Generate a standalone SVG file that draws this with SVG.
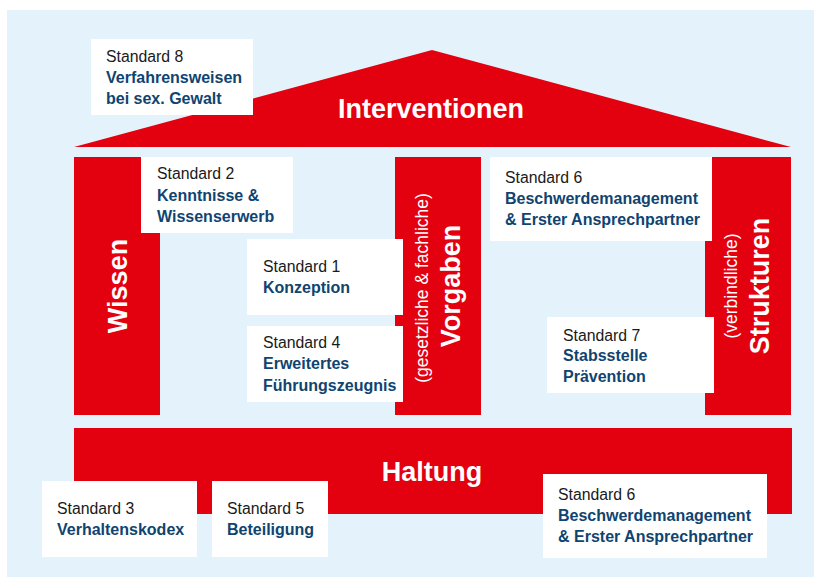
<svg xmlns="http://www.w3.org/2000/svg" width="814" height="577" viewBox="0 0 814 577">
  <style>
    .red { fill: #e3000f; }
    .box { fill: #ffffff; }
    .std { font-family: "Liberation Sans", Arial, sans-serif; font-size: 15.8px; fill: #1a1a1a; }
    .ttl { font-family: "Liberation Sans", Arial, sans-serif; font-size: 16px; font-weight: bold; fill: #0f4470; }
    .big { font-family: "Liberation Sans", Arial, sans-serif; font-size: 27px; font-weight: bold; fill: #ffffff; }
    .sub { font-family: "Liberation Sans", Arial, sans-serif; font-size: 17.5px; fill: #ffffff; }
  </style>

  <!-- page -->
  <rect x="0" y="0" width="814" height="577" fill="#ffffff"/>
  <rect x="7" y="10" width="807" height="567" fill="#e4f3fb"/>

  <!-- roof -->
  <g id="roof">
    <polygon class="red" points="74,147 432,50 791,147"/>
    <text class="big" x="431" y="118" text-anchor="middle">Interventionen</text>
  </g>

  <!-- pillars -->
  <g id="pillar-wissen">
    <rect class="red" x="74" y="157" width="86" height="258"/>
    <text class="big" transform="translate(127,286) rotate(-90)" text-anchor="middle">Wissen</text>
  </g>
  <g id="pillar-vorgaben">
    <rect class="red" x="395" y="157" width="86" height="258"/>
    <text class="sub" transform="translate(428,288) rotate(-90)" text-anchor="middle">(gesetzliche &amp; fachliche)</text>
    <text class="big" transform="translate(460,286) rotate(-90)" text-anchor="middle">Vorgaben</text>
  </g>
  <g id="pillar-strukturen">
    <rect class="red" x="705" y="157" width="86" height="258"/>
    <text class="sub" transform="translate(737,286) rotate(-90)" text-anchor="middle">(verbindliche)</text>
    <text class="big" transform="translate(769,286) rotate(-90)" text-anchor="middle">Strukturen</text>
  </g>

  <!-- foundation -->
  <g id="foundation">
    <rect class="red" x="74" y="428" width="718" height="86"/>
    <text class="big" x="432" y="481" text-anchor="middle">Haltung</text>
  </g>

  <!-- standards -->
  <g id="standard-8">
    <rect class="box" x="91" y="39" width="162" height="76"/>
    <text class="std" x="106" y="62">Standard 8</text>
    <text class="ttl" x="106" y="83">Verfahrensweisen</text>
    <text class="ttl" x="106" y="104">bei sex. Gewalt</text>
  </g>
  <g id="standard-2">
    <rect class="box" x="141" y="157" width="152" height="76"/>
    <text class="std" x="157" y="179">Standard 2</text>
    <text class="ttl" x="157" y="201">Kenntnisse &amp;</text>
    <text class="ttl" x="157" y="222">Wissenserwerb</text>
  </g>
  <g id="standard-1">
    <rect class="box" x="247" y="239" width="156" height="76"/>
    <text class="std" x="263" y="272">Standard 1</text>
    <text class="ttl" x="263" y="293">Konzeption</text>
  </g>
  <g id="standard-4">
    <rect class="box" x="247" y="326" width="156" height="76"/>
    <text class="std" x="263" y="348">Standard 4</text>
    <text class="ttl" x="263" y="369">Erweitertes</text>
    <text class="ttl" x="263" y="391">Führungszeugnis</text>
  </g>
  <g id="standard-6-top">
    <rect class="box" x="490" y="157" width="222" height="84"/>
    <text class="std" x="505" y="183">Standard 6</text>
    <text class="ttl" x="505" y="204">Beschwerdemanagement</text>
    <text class="ttl" x="505" y="225">&amp; Erster Ansprechpartner</text>
  </g>
  <g id="standard-7">
    <rect class="box" x="547" y="317" width="167" height="76"/>
    <text class="std" x="563" y="341">Standard 7</text>
    <text class="ttl" x="563" y="361">Stabsstelle</text>
    <text class="ttl" x="563" y="382">Prävention</text>
  </g>
  <g id="standard-3">
    <rect class="box" x="42" y="481" width="155" height="76"/>
    <text class="std" x="57" y="514">Standard 3</text>
    <text class="ttl" x="57" y="535">Verhaltenskodex</text>
  </g>
  <g id="standard-5">
    <rect class="box" x="212" y="481" width="116" height="76"/>
    <text class="std" x="227" y="514">Standard 5</text>
    <text class="ttl" x="227" y="535">Beteiligung</text>
  </g>
  <g id="standard-6-bottom">
    <rect class="box" x="543" y="474" width="224" height="84"/>
    <text class="std" x="558" y="500">Standard 6</text>
    <text class="ttl" x="558" y="521">Beschwerdemanagement</text>
    <text class="ttl" x="558" y="542">&amp; Erster Ansprechpartner</text>
  </g>

  <!-- no connectors in this figure -->
  <g id="connectors"/>
</svg>
